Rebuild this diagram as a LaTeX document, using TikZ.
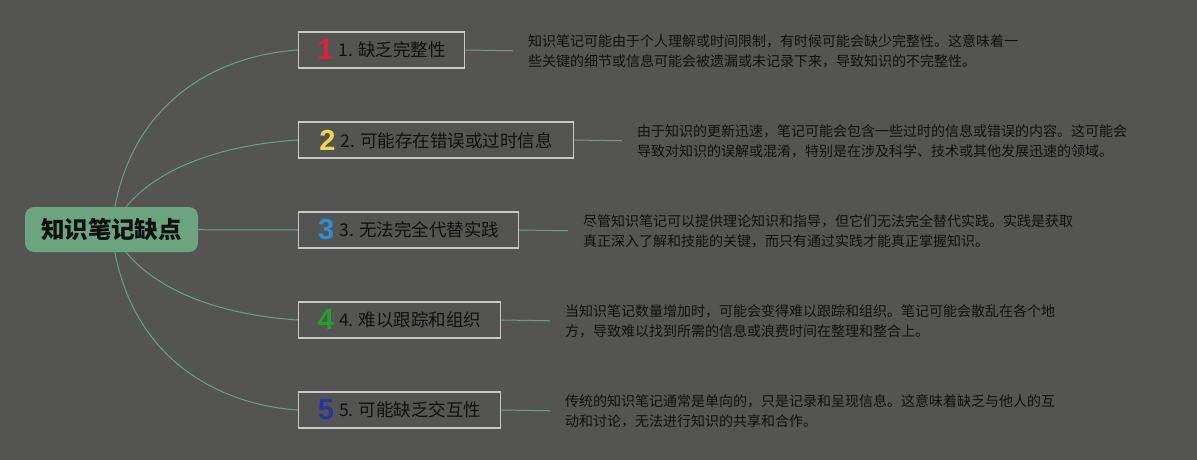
\documentclass[tikz,border=0pt]{standalone}
\usepackage{fontspec}
\setmainfont{Noto Sans CJK SC}
\newfontfamily\badgefont{Liberation Sans}
\usetikzlibrary{backgrounds}
\definecolor{bg}{HTML}{545552}
\definecolor{rootfill}{HTML}{6BA47E}
\definecolor{linkc}{HTML}{6E9C88}
\definecolor{boxline}{HTML}{C8C8C8}
\definecolor{ink}{HTML}{101010}
\definecolor{bred}{HTML}{E0203C}
\definecolor{byellow}{HTML}{F2D54A}
\definecolor{bblue}{HTML}{2A8FD6}
\definecolor{bgreen}{HTML}{22A02A}
\definecolor{bnavy}{HTML}{28369C}
\newcommand\badge[2]{\raisebox{-3pt}{\textcolor{#1}{\badgefont\bfseries\fontsize{29}{29}\selectfont #2}}\hspace{5pt}}
\tikzset{
  rootbox/.style={fill=rootfill, rounded corners=9pt, minimum width=173pt, minimum height=45pt, inner sep=0pt, font=\fontsize{23.5}{26}\selectfont\bfseries, text=ink},
  topic/.style={draw=boxline, line width=1.4pt, fill=bg, minimum height=36pt, inner sep=0pt, anchor=west, font=\fontsize{17.5}{20}\selectfont, text=ink},
  desc/.style={anchor=west, inner sep=0pt, align=left, font=\fontsize{14}{20}\selectfont, text=ink},
  link/.style={draw=linkc, line width=1pt},
}
\begin{document}
\begin{tikzpicture}[x=1pt,y=-1pt]
\begin{scope}[on background layer]
\fill[bg] (0,0) rectangle (1197,460);
\end{scope}
\useasboundingbox (0,0) rectangle (1197,460);

\node[rootbox] (root) at (111.5,229.5) {知识笔记缺点};

\node[topic, minimum width=166pt] (t1) at (298,50) {\badge{bred}{1}1. 缺乏完整性};
\node[topic, minimum width=275pt] (t2) at (298,140) {\badge{byellow}{2}2. 可能存在错误或过时信息};
\node[topic, minimum width=220pt] (t3) at (298,230) {\badge{bblue}{3}3. 无法完全代替实践};
\node[topic, minimum width=202pt] (t4) at (298,320) {\badge{bgreen}{4}4. 难以跟踪和组织};
\node[topic, minimum width=202pt] (t5) at (298,410) {\badge{bnavy}{5}5. 可能缺乏交互性};

\node[desc] (d1) at (528,51) {知识笔记可能由于个人理解或时间限制，有时候可能会缺少完整性。这意味着一\\些关键的细节或信息可能会被遗漏或未记录下来，导致知识的不完整性。};
\node[desc] (d2) at (637,141) {由于知识的更新迅速，笔记可能会包含一些过时的信息或错误的内容。这可能会\\导致对知识的误解或混淆，特别是在涉及科学、技术或其他发展迅速的领域。};
\node[desc] (d3) at (583,231) {尽管知识笔记可以提供理论知识和指导，但它们无法完全替代实践。实践是获取\\真正深入了解和技能的关键，而只有通过实践才能真正掌握知识。};
\node[desc] (d4) at (565,321) {当知识笔记数量增加时，可能会变得难以跟踪和组织。笔记可能会散乱在各个地\\方，导致难以找到所需的信息或浪费时间在整理和整合上。};
\node[desc] (d5) at (565,411) {传统的知识笔记通常是单向的，只是记录和呈现信息。这意味着缺乏与他人的互\\动和讨论，无法进行知识的共享和合作。};

\begin{scope}[on background layer]
\draw[link] (root.center) .. controls (125,100) and (220,55) .. (t1.west);
\draw[link] (root.center) .. controls (140,170) and (220,145) .. (t2.west);
\draw[link] (root.center) -- (t3.west);
\draw[link] (root.center) .. controls (140,289) and (220,315) .. (t4.west);
\draw[link] (root.center) .. controls (125,359) and (220,405) .. (t5.west);
\end{scope}

\foreach \i in {1,...,5}{
  \draw[link, shorten >=15pt] (t\i.east) -- (d\i.west);
}
\end{tikzpicture}
\end{document}
